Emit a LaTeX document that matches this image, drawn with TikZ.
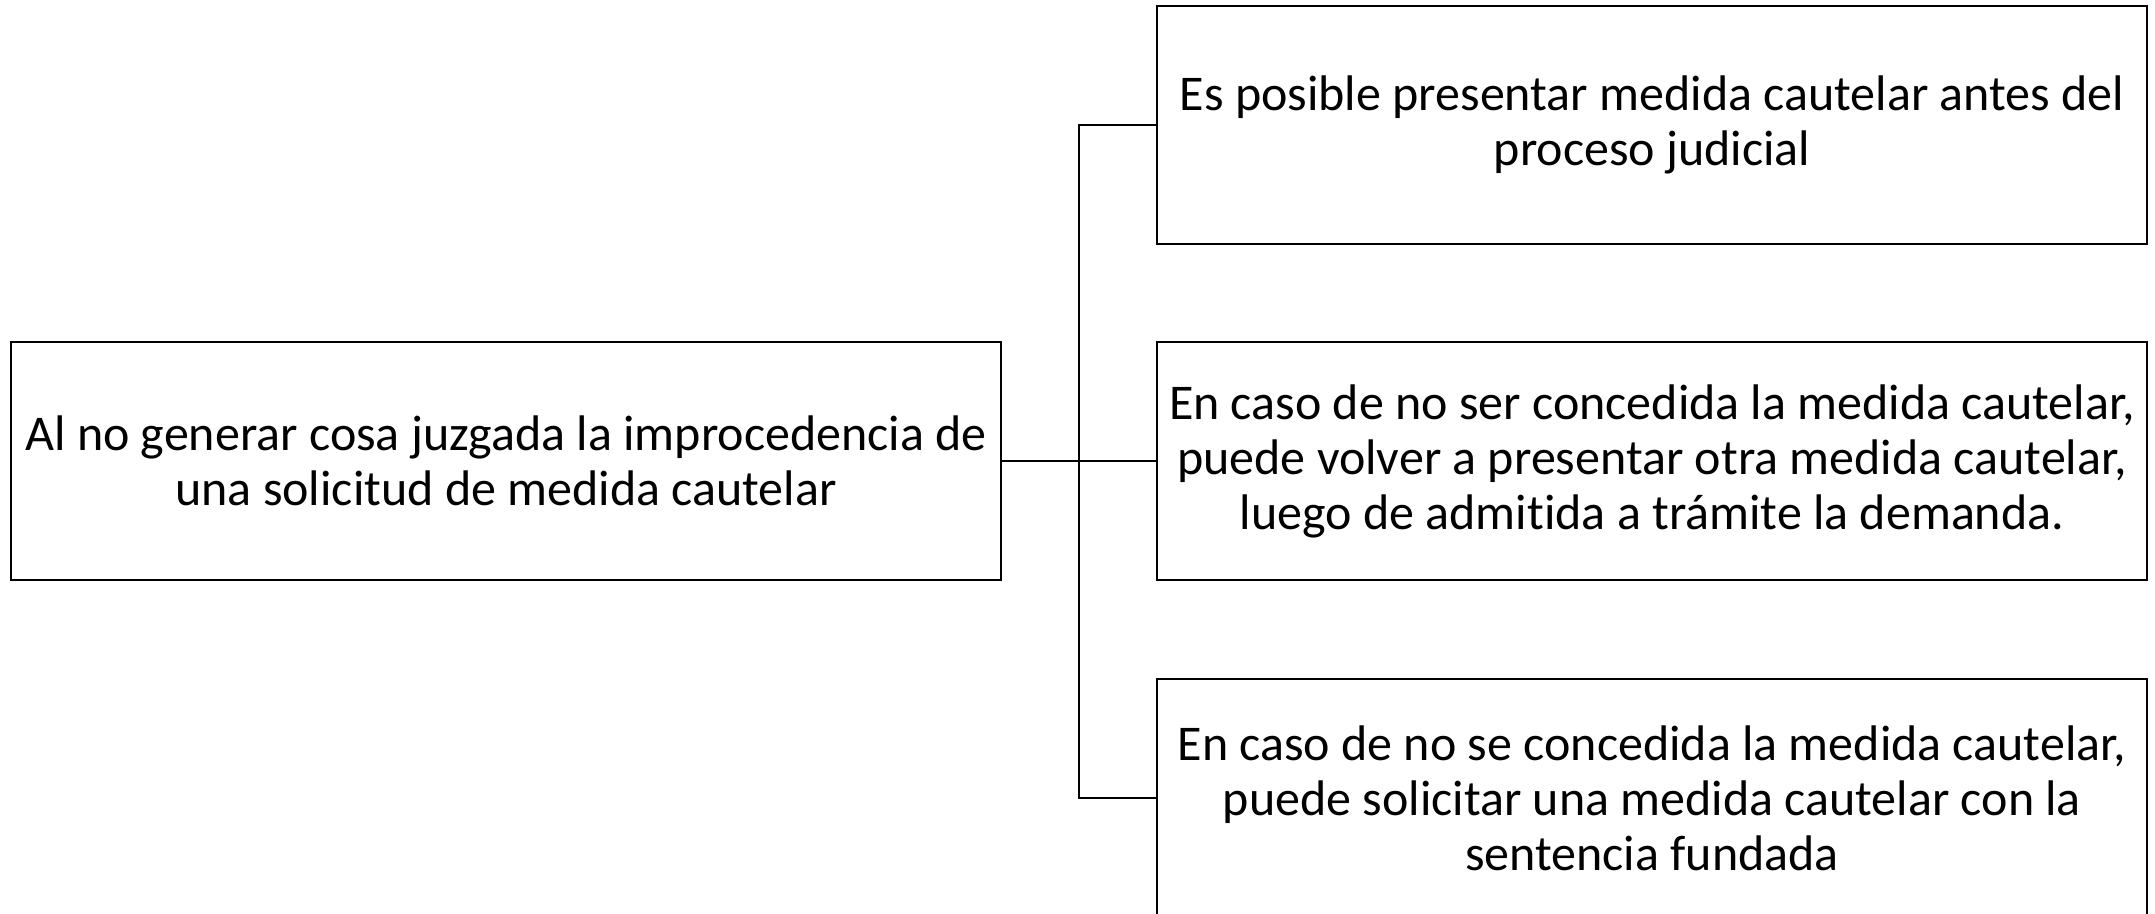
\documentclass[tikz,border=0pt]{standalone}
\usepackage{fontspec}
\setmainfont{Carlito}[Ligatures=NoCommon]
\usetikzlibrary{positioning}

\begin{document}
\begin{tikzpicture}[x=1pt, y=1pt, line width=1.5pt,
   caja/.style={draw, rectangle, minimum width=990pt, minimum height=238pt,
     align=center, inner sep=0pt, font=\fontsize{50}{55}\selectfont}
   ]
   \useasboundingbox (0,0) rectangle (2155,913);

   \path (506,452) node[caja] (solicitud) {Al no generar cosa juzgada la improcedencia de\\una solicitud de medida cautelar};

   \path (1652,788) node[caja] (antes) {Es posible presentar medida cautelar antes del\\proceso judicial}
   (1652,452) node[caja] (volver) {En caso de no ser concedida la medida cautelar,\\puede volver a presentar otra medida cautelar,\\luego de admitida a tr\'amite la demanda.}
   (1652,115) node[caja] (fundada) {En caso de no se concedida la medida cautelar,\\puede solicitar una medida cautelar con la\\sentencia fundada};

   \coordinate (arriba) at (1079,788);
   \coordinate (abajo) at (1079,115);

   \draw (solicitud.east) -- (volver.west);
   \draw (antes.west) -- (arriba) -- (abajo) -- (fundada.west);

\end{tikzpicture}
\end{document}
